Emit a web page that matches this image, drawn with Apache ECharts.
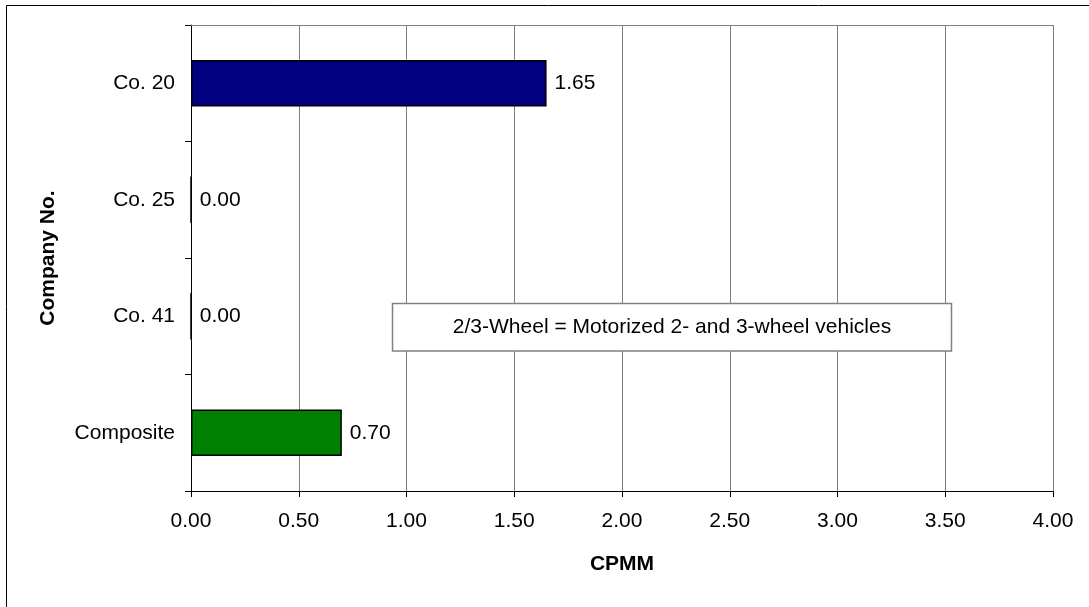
<!DOCTYPE html>
<html>
<head>
<meta charset="utf-8">
<title>CPMM by Company</title>
<script src="https://cdn.jsdelivr.net/npm/echarts@6/dist/echarts.min.js"></script>
<style>
  html, body { margin: 0; padding: 0; background: #fff; }
  #chart { width: 1089px; height: 607px; }
</style>
</head>
<body>
<div id="chart"></div>
<script>
// Companies, listed top to bottom
const companies = ['Co. 20', 'Co. 25', 'Co. 41', 'Composite'];
// CPMM value for each company
const cpmm = [1.65, 0.00, 0.00, 0.70];
// Bar fill for each company
const barColors = ['#000080', '#000080', '#000080', '#008000'];
// CPMM axis range and step
const xMin = 0, xMax = 4, xStep = 0.5;
const noteText = '2/3-Wheel = Motorized 2- and 3-wheel vehicles';

const FONT = '"Liberation Sans", Arial, sans-serif';
const chart = echarts.init(document.getElementById('chart'), null, { renderer: 'canvas' });

chart.setOption({
  animation: false,
  backgroundColor: '#ffffff',
  textStyle: { fontFamily: FONT },
  grid: { left: 191, right: 36, top: 25, bottom: 116, containLabel: false },
  xAxis: [{
    type: 'value',
    min: xMin, max: xMax, interval: xStep,
    name: 'CPMM',
    nameLocation: 'middle',
    nameGap: 63,
    nameTextStyle: { fontFamily: FONT, fontSize: 21, fontWeight: 'bold', color: '#000' },
    axisLine: { show: true, lineStyle: { color: '#000', width: 1 } },
    axisTick: { show: true, length: 6, lineStyle: { color: '#000' } },
    axisLabel: { fontFamily: FONT, fontSize: 21, color: '#000', margin: 20,
                 formatter: v => v.toFixed(2) },
    splitLine: { show: true, lineStyle: { color: '#808080', width: 1 } }
  }, {
    // top edge of the plot area
    type: 'value', position: 'top',
    min: xMin, max: xMax, interval: xStep,
    axisLine: { show: true, onZero: false, lineStyle: { color: '#808080', width: 1 } },
    axisTick: { show: false }, axisLabel: { show: false }, splitLine: { show: false }
  }],
  yAxis: {
    type: 'category',
    data: companies,
    inverse: true,
    name: 'Company No.',
    nameLocation: 'middle',
    nameRotate: 90,
    nameGap: 132,
    nameTextStyle: { fontFamily: FONT, fontSize: 21, fontWeight: 'bold', color: '#000' },
    axisLine: { show: true, lineStyle: { color: '#000', width: 1 } },
    axisTick: { show: true, length: 6, alignWithLabel: false, lineStyle: { color: '#000' } },
    axisLabel: { fontFamily: FONT, fontSize: 21, color: '#000', margin: 16 },
    splitLine: { show: false }
  },
  series: [{
    type: 'bar',
    xAxisIndex: 0,
    barCategoryGap: '60%',
    data: cpmm.map((v, i) => ({
      value: v,
      itemStyle: { color: barColors[i], borderColor: '#000', borderWidth: 1.5 }
    })),
    label: {
      show: true, position: 'right', distance: 8,
      fontFamily: FONT, fontSize: 21, color: '#000',
      formatter: p => p.value.toFixed(2)
    }
  }],
  graphic: [
    // chart frame, left and top edges
    { type: 'line', shape: { x1: 6.5, y1: 5.5, x2: 6.5, y2: 607 },
      style: { stroke: '#000', lineWidth: 1 }, z: 100 },
    { type: 'line', shape: { x1: 6.5, y1: 5.5, x2: 1089, y2: 5.5 },
      style: { stroke: '#000', lineWidth: 1 }, z: 100 },
    // note box
    { type: 'rect', shape: { x: 392.5, y: 303.5, width: 559, height: 47.5 },
      style: { fill: '#fff', stroke: '#808080', lineWidth: 1.5 }, z: 100 },
    { type: 'text', x: 672, y: 327.5, z: 101,
      style: { text: noteText, fontFamily: FONT, fontSize: 21, fill: '#000',
               textAlign: 'center', textVerticalAlign: 'middle' } }
  ]
});
</script>
</body>
</html>
